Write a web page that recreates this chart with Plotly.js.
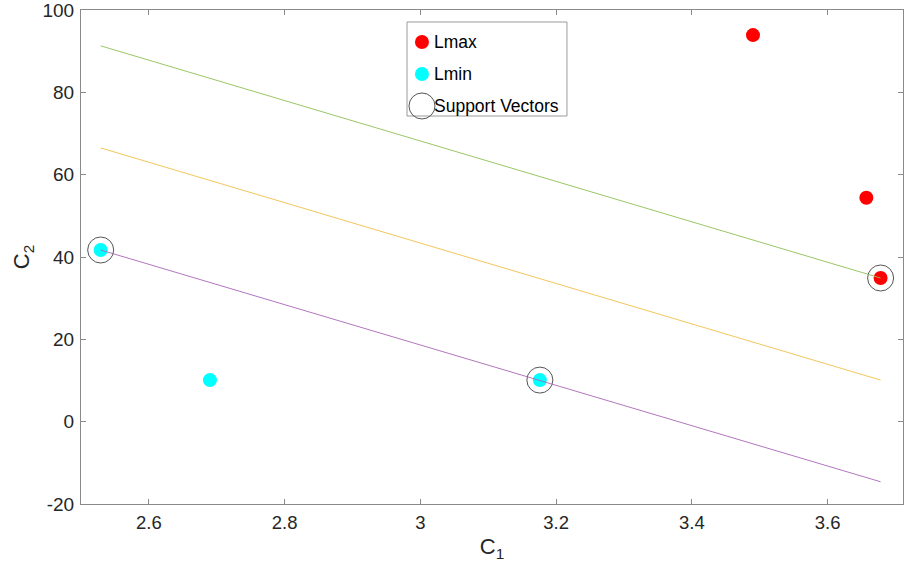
<!DOCTYPE html>
<html>
<head>
<meta charset="utf-8">
<script src="https://cdn.plot.ly/plotly-3.0.1.min.js"></script>
<style>html,body{margin:0;padding:0;background:#fff;}#chart{width:904px;height:572px;}</style>
</head>
<body>
<div id="chart"></div>
<script>
// Data
var lmaxX = [3.490, 3.657, 3.678];
var lmaxY = [93.9, 54.4, 34.9];
var lminX = [2.529, 2.690, 3.176];
var lminY = [41.7, 10.1, 10.1];
var svX = [2.529, 3.176, 3.678];
var svY = [41.7, 10.1, 34.9];
var lineX = [2.529, 3.678];
var upperY = [91.3, 34.9];
var middleY = [66.5, 10.1];
var lowerY = [41.7, -14.6];
var xTicks = [2.6, 2.8, 3, 3.2, 3.4, 3.6];
var xTickText = ['2.6', '2.8', '3', '3.2', '3.4', '3.6'];
var yTicks = [-20, 0, 20, 40, 60, 80, 100];
var yTickText = ['-20', '0', '20', '40', '60', '80', '100'];
var legendNames = ['Lmax', 'Lmin', 'Support Vectors'];

var FONT = 'Liberation Sans, Arial, Helvetica, sans-serif';
var TXT = '#262626';
var AX = '#8a8a8a';

// legend layout (paper coords of plot area)
var legX = 0.4148, legTextX = 0.4275;
var legRows = [0.9352, 0.8704, 0.8057];

var traces = [
  {x: lmaxX, y: lmaxY, type: 'scatter', mode: 'markers', name: legendNames[0],
   marker: {color: '#ff0000', size: 14, line: {width: 0}}, hoverinfo: 'x+y'},
  {x: lminX, y: lminY, type: 'scatter', mode: 'markers', name: legendNames[1],
   marker: {color: '#00ffff', size: 14, line: {width: 0}}, hoverinfo: 'x+y'},
  {x: svX, y: svY, type: 'scatter', mode: 'markers', name: legendNames[2],
   marker: {symbol: 'circle-open', color: '#555555', size: 26, line: {width: 1}}, hoverinfo: 'x+y'},
  {x: lineX, y: upperY, type: 'scatter', mode: 'lines', line: {color: '#8fbf55', width: 0.9}, hoverinfo: 'skip'},
  {x: lineX, y: middleY, type: 'scatter', mode: 'lines', line: {color: '#f0c04a', width: 0.9}, hoverinfo: 'skip'},
  {x: lineX, y: lowerY, type: 'scatter', mode: 'lines', line: {color: '#a868b4', width: 0.9}, hoverinfo: 'skip'},
  // custom legend symbols on an overlay axis spanning the plot area
  {x: [legX], y: [legRows[0]], xaxis: 'x2', yaxis: 'y2', type: 'scatter', mode: 'markers',
   marker: {color: '#ff0000', size: 14}, hoverinfo: 'skip'},
  {x: [legX], y: [legRows[1]], xaxis: 'x2', yaxis: 'y2', type: 'scatter', mode: 'markers',
   marker: {color: '#00ffff', size: 14}, hoverinfo: 'skip'},
  {x: [legX], y: [legRows[2]], xaxis: 'x2', yaxis: 'y2', type: 'scatter', mode: 'markers',
   marker: {symbol: 'circle-open', color: '#555555', size: 26, line: {width: 1}}, hoverinfo: 'skip'}
];

var annotations = legendNames.map(function (n, i) {
  return {xref: 'paper', yref: 'paper', x: legTextX, y: legRows[i], xanchor: 'left', yanchor: 'middle',
          text: n, showarrow: false, font: {family: FONT, size: 17.5, color: '#000'}};
});

var layout = {
  width: 904, height: 572,
  margin: {l: 81, r: 1, t: 10, b: 68, pad: 0},
  paper_bgcolor: '#ffffff', plot_bgcolor: '#ffffff',
  showlegend: false,
  font: {family: FONT, color: TXT, size: 19},
  xaxis: {
    range: [2.5, 3.711], tickvals: xTicks, ticktext: xTickText,
    ticks: 'inside', ticklen: 5, tickcolor: AX, tickwidth: 1,
    showline: true, linecolor: AX, linewidth: 1, mirror: 'ticks',
    showgrid: false, zeroline: false, ticklabeloverflow: 'allow', ticklabelstandoff: 2,
    tickfont: {family: FONT, size: 18.5, color: TXT},
    title: {text: 'C<sub>1</sub>', font: {family: FONT, size: 22, color: TXT}, standoff: 6}
  },
  yaxis: {
    range: [-20, 100], tickvals: yTicks, ticktext: yTickText,
    ticks: 'inside', ticklen: 5, tickcolor: AX, tickwidth: 1,
    showline: true, linecolor: AX, linewidth: 1, mirror: 'ticks',
    showgrid: false, zeroline: false, ticklabelstandoff: 2, ticklabeloverflow: 'allow',
    tickfont: {family: FONT, size: 19, color: TXT},
    title: {text: 'C<sub>2</sub>', font: {family: FONT, size: 22, color: TXT}, standoff: 6}
  },
  xaxis2: {overlaying: 'x', range: [0, 1], visible: false, fixedrange: true},
  yaxis2: {overlaying: 'y', range: [0, 1], visible: false, fixedrange: true},
  shapes: [{type: 'rect', xref: 'paper', yref: 'paper', x0: 0.3966, x1: 0.5912, y0: 0.7854, y1: 0.9757,
            line: {color: '#9a9a9a', width: 1}, fillcolor: '#ffffff', layer: 'below'}],
  annotations: annotations
};

Plotly.newPlot('chart', traces, layout, {displayModeBar: false, staticPlot: true});
</script>
</body>
</html>
